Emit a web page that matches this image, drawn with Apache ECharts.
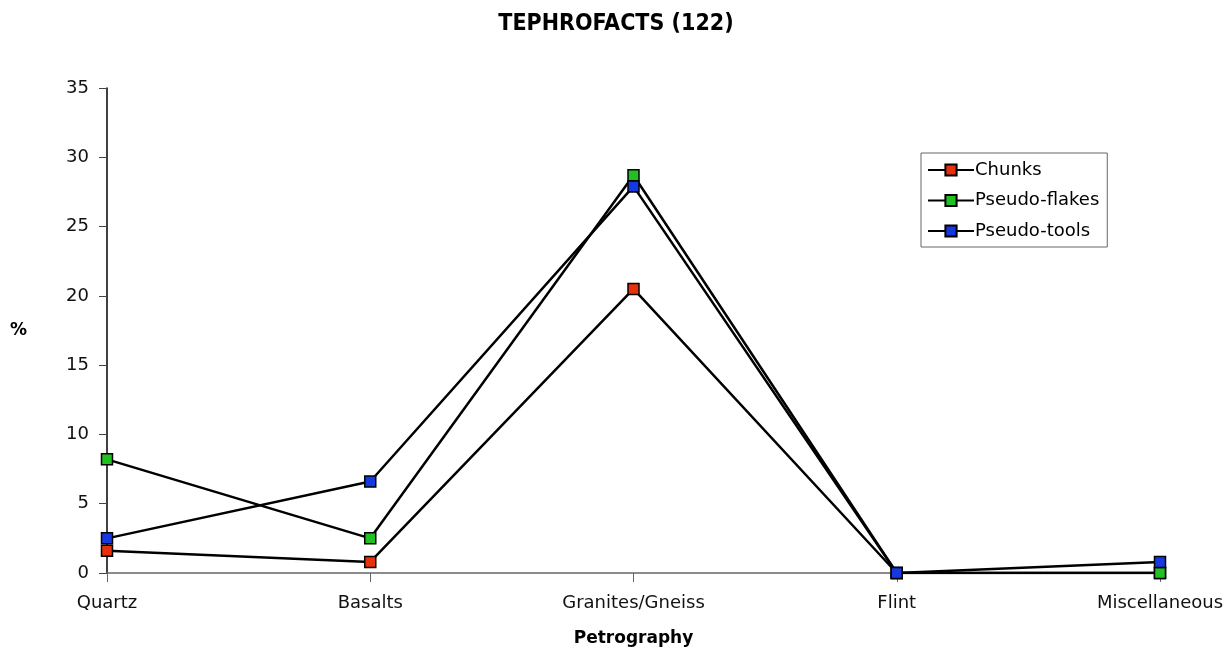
<!DOCTYPE html>
<html>
<head>
<meta charset="utf-8">
<style>
  html, body { margin: 0; padding: 0; background: #fff; }
  #chart { width: 1232px; height: 657px; }
</style>
<script src="https://cdn.jsdelivr.net/npm/echarts@6/dist/echarts.min.js"></script>
</head>
<body>
<div id="chart"></div>
<script>
// data
const categories = ['Quartz', 'Basalts', 'Granites/Gneiss', 'Flint', 'Miscellaneous'];
const chunks = [1.6, 0.8, 20.5, 0, 0];
const pseudoFlakes = [8.2, 2.5, 28.7, 0, 0];
const pseudoTools = [2.5, 6.6, 27.9, 0, 0.8];

const font = 'DejaVu Sans';

function makeSeries(name, data, color) {
  return {
    name,
    type: 'line',
    data,
    symbol: 'rect',
    symbolSize: 11,
    lineStyle: { color: '#000', width: 2.5 },
    itemStyle: { color, borderColor: '#000', borderWidth: 1.5 },
    emphasis: { disabled: true },
    animation: false
  };
}

const chart = echarts.init(document.getElementById('chart'));
chart.setOption({
  backgroundColor: '#fff',
  title: {
    text: 'TEPHROFACTS (122)',
    left: 'center',
    top: 8,
    textStyle: { fontFamily: 'DejaVu Sans Condensed', fontWeight: 'bold', fontSize: 23, color: '#000' }
  },
  legend: {
    orient: 'vertical',
    left: 921,
    top: 153,
    padding: [8, 8, 7, 6],
    itemWidth: 46,
    itemHeight: 14,
    itemGap: 12.5,
    borderColor: '#666',
    borderWidth: 1,
    backgroundColor: '#fff',
    textStyle: { fontFamily: font, fontSize: 18, color: '#000', padding: [0, 0, 0, -4] },
    data: ['Chunks', 'Pseudo-flakes', 'Pseudo-tools']
  },
  grid: { left: 107, right: 72, top: 88, bottom: 84 },
  xAxis: {
    type: 'category',
    data: categories,
    boundaryGap: false,
    name: 'Petrography',
    nameLocation: 'middle',
    nameGap: 57,
    nameTextStyle: { fontFamily: font, fontWeight: 'bold', fontSize: 17, color: '#000' },
    axisLine: { lineStyle: { color: '#666', width: 1.5 } },
    axisTick: { alignWithLabel: true, length: 9, lineStyle: { color: '#666' } },
    axisLabel: { fontFamily: font, fontSize: 18, color: '#111', margin: 21 },
    splitLine: { show: false }
  },
  yAxis: {
    type: 'value',
    min: 0,
    max: 35,
    interval: 5,
    name: '%',
    nameLocation: 'middle',
    nameRotate: 0,
    nameGap: 80,
    nameTextStyle: { fontFamily: font, fontWeight: 'bold', fontSize: 17, color: '#000' },
    axisLine: { show: true, lineStyle: { color: '#000', width: 1.5 } },
    axisTick: { show: true, length: 8, lineStyle: { color: '#444' } },
    axisLabel: { fontFamily: font, fontSize: 18, color: '#111', margin: 18 },
    splitLine: { show: false }
  },
  series: [
    makeSeries('Chunks', chunks, '#e8300c'),
    makeSeries('Pseudo-flakes', pseudoFlakes, '#22c022'),
    makeSeries('Pseudo-tools', pseudoTools, '#1638e0')
  ]
});
</script>
</body>
</html>
